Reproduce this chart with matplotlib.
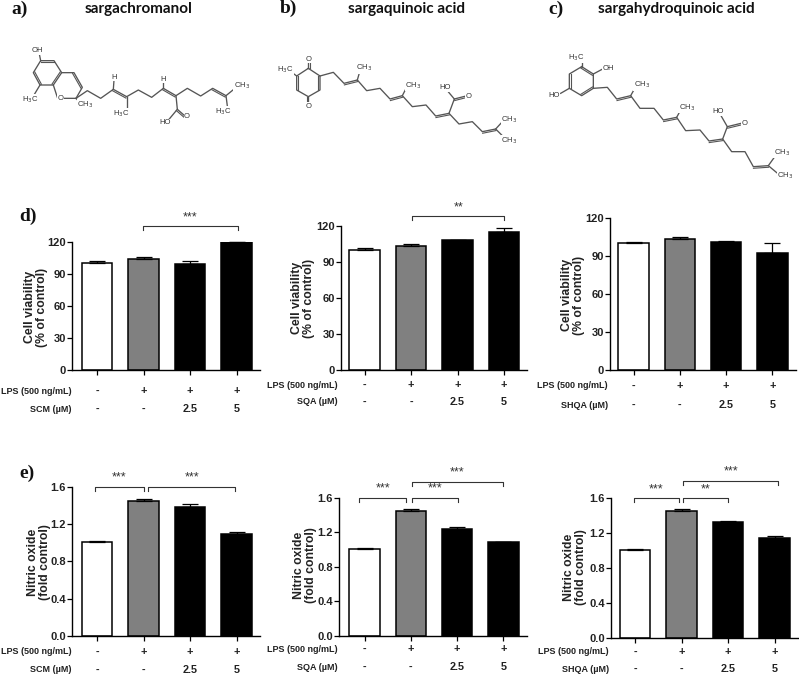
import matplotlib
matplotlib.use('Agg')
from matplotlib import pyplot as plt
from matplotlib.transforms import blended_transform_factory

W, H = 799, 676

# bar values
cv_scm = [100.4, 104, 99.5, 120]
cv_scm_err = [1.5, 2, 2.1, 0]
cv_sqa = [100.3, 103.6, 108.3, 115]
cv_sqa_err = [1.7, 1.9, 0.3, 4]
cv_shqa = [100.3, 103.4, 101.6, 92.9]
cv_shqa_err = [1, 1.9, 0.5, 7.6]
no_scm = [1.004, 1.443, 1.382, 1.089]
no_scm_err = [0.01, 0.021, 0.032, 0.021]
no_sqa = [1.006, 1.446, 1.234, 1.083]
no_sqa_err = [0.012, 0.023, 0.023, 0]
no_shqa = [1.007, 1.452, 1.323, 1.14]
no_shqa_err = [0.012, 0.023, 0.012, 0.023]

bar_colors = ['white', '#808080', 'black', 'black']
lps_row = ['-', '+', '+', '+']
dose_row = ['-', '-', '2.5', '5']
cv_ticks = [0, 30, 60, 90, 120]
no_ticks = [0.0, 0.4, 0.8, 1.2, 1.6]

# significance brackets: first bar, last bar, height, stars
br_d1 = [(0.98, 3.03, 134.6, '***')]
br_d2 = [(1.03, 3.0, 128.6, '**')]
br_d3 = []
br_e1 = [(-0.04, 1.0, 1.6, '***'), (1.10, 2.97, 1.6, '***')]
br_e2 = [(-0.12, 0.90, 1.6, '***'), (1.02, 2.03, 1.6, '***'), (1.02, 2.99, 1.786, '***')]
br_e3 = [(-0.03, 0.95, 1.597, '***'), (1.04, 2.0, 1.597, '**'), (1.04, 3.07, 1.80, '***')]

sans = 'Liberation Sans'
fig = plt.figure(figsize=(W / 100, H / 100), dpi=100)

# overlay in image pixels for the text and the drawn molecules
ov = fig.add_axes([0, 0, 1, 1])
ov.set_xlim(0, W)
ov.set_ylim(H, 0)
ov.axis('off')


def bar_panel(left, right, top, bottom, c0, step, vals, errs, ymax, ticks, ticklabels,
              ylab, ylab_x, ylab_y, dose, row_right, row_y, brackets):
    ax = fig.add_axes([left / W, 1 - bottom / H, (right - left) / W, (bottom - top) / H])
    ax.patch.set_alpha(0)
    x = range(4)
    ax.bar(x, vals, width=0.66, color=bar_colors, edgecolor='black', linewidth=1.1)
    ax.errorbar(x, vals, yerr=[[0] * 4, errs], fmt='none', ecolor='black',
                elinewidth=0.9, capsize=5.6, capthick=0.9, clip_on=False)
    ax.set_xlim((left - c0) / step, (right - c0) / step)
    ax.set_ylim(0, ymax)
    ax.set_xticks(list(x))
    ax.set_xticklabels([])
    ax.set_yticks(ticks)
    ax.set_yticklabels(ticklabels, fontfamily=sans, fontweight='bold', fontsize=8, color='#222222')
    ax.tick_params(length=3.5, width=0.9, pad=1)
    for s in ['top', 'right']:
        ax.spines[s].set_visible(False)
    for s in ['left', 'bottom']:
        ax.spines[s].set_linewidth(1.0)

    ov.text(ylab_x, ylab_y, ylab, rotation=90, ha='center', va='center', multialignment='center',
            fontfamily=sans, fontweight='bold', fontsize=8.8, color='#222222', linespacing=1.1)

    # two rows under the bars
    tr = blended_transform_factory(ax.transData, ov.transData)
    for i in x:
        ax.text(i, row_y[0], lps_row[i], transform=tr, ha='center', va='center', clip_on=False,
                fontfamily=sans, fontweight='bold', fontsize=7.8, color='#222222')
        ax.text(i, row_y[1], dose_row[i], transform=tr, ha='center', va='center', clip_on=False,
                fontfamily=sans, fontweight='bold', fontsize=7.8, color='#222222')
    ov.text(row_right, row_y[0], 'LPS (500 ng/mL)', ha='right', va='center',
            fontfamily=sans, fontweight='bold', fontsize=6.5, color='#222222')
    ov.text(row_right, row_y[1], dose + ' (µM)', ha='right', va='center',
            fontfamily=sans, fontweight='bold', fontsize=6.5, color='#222222')

    # brackets, 4 px drop at each end
    drop = 4.0 * ymax / (bottom - top)
    for x0, x1, y, stars in brackets:
        ax.plot([x0, x0, x1, x1], [y - drop, y, y, y - drop], color='#333333', lw=0.8, clip_on=False)
        ax.annotate(stars, ((x0 + x1) / 2, y), xytext=(0, 2), textcoords='offset points',
                    ha='center', va='bottom', fontfamily=sans, fontsize=9, color='#333333',
                    annotation_clip=False)
    return ax


cv_labels = [str(t) for t in cv_ticks]
no_labels = ['%.1f' % t for t in no_ticks]
cv_text = 'Cell viability\n(% of control)'
no_text = 'Nitric oxide\n(fold control)'

bar_panel(72, 260, 241.6, 370, 97, 46.5, cv_scm, cv_scm_err, 120, cv_ticks, cv_labels,
          cv_text, 36, 307, 'SCM', 72, (391, 409), br_d1)
bar_panel(341, 527, 226.3, 370.3, 364.5, 46.5, cv_sqa, cv_sqa_err, 120, cv_ticks, cv_labels,
          cv_text, 303, 298, 'SQA', 338, (385, 402), br_d2)
bar_panel(610, 796, 218.3, 370, 633.5, 46.3, cv_shqa, cv_shqa_err, 120, cv_ticks, cv_labels,
          cv_text, 573, 295, 'SHQA', 608, (386, 405), br_d3)
bar_panel(72, 260, 486.7, 636, 97, 46.5, no_scm, no_scm_err, 1.6, no_ticks, no_labels,
          no_text, 39, 562, 'SCM', 72, (652, 670), br_e1)
bar_panel(339, 527, 497.7, 636, 364.5, 46.3, no_sqa, no_sqa_err, 1.6, no_ticks, no_labels,
          no_text, 305, 565, 'SQA', 338, (649, 667), br_e2)
bar_panel(611, 798, 498, 638, 635, 46.5, no_shqa, no_shqa_err, 1.6, no_ticks, no_labels,
          no_text, 575, 567, 'SHQA', 609, (652, 669), br_e3)

# panel letters and compound names
letters = ['a)', 'b)', 'c)', 'd)', 'e)']
letter_x = [20, 288, 556, 28, 27]
letter_y = [9, 8, 9, 216, 473]
for t, lx, ly in zip(letters, letter_x, letter_y):
    ov.text(lx, ly, t, ha='center', va='center', fontfamily='Liberation Serif',
            fontweight='bold', fontsize=14, color='#111111')

names = ['sargachromanol', 'sargaquinoic acid', 'sargahydroquinoic acid']
name_x = [139, 407, 676]
for t, nx in zip(names, name_x):
    ov.text(nx, 9, t, ha='center', va='center', fontfamily='Lato', fontweight='bold',
            fontsize=11, color='#111111')

# molecule sketches, coordinates in 3x zoomed pixels of each panel
chroman_bonds = [
    [(122, 182), (162, 182), (185, 218), (160, 255), (120, 255), (100, 218), (122, 182)],
    [(185, 218), (222, 218), (247, 262), (228, 295), (192, 295)], [(172, 292), (160, 255)],
    [(122, 182), (118, 162)], [(120, 255), (102, 285)], [(228, 295), (240, 308)],
    [(228, 295), (262, 272), (302, 295), (340, 268), (380, 290), (415, 270), (455, 292),
     (490, 265), (528, 287), (562, 265), (602, 288), (638, 265), (678, 287), (705, 265)],
    [(678, 287), (682, 318)], [(340, 268), (342, 240)], [(380, 290), (380, 325)],
    [(490, 265), (490, 245)], [(528, 287), (532, 328), (555, 348)], [(532, 328), (507, 358)],
]
chroman_dbl = [((122, 182), (162, 182)), ((185, 218), (160, 255)), ((120, 255), (100, 218)),
               ((222, 218), (247, 262)), ((340, 268), (380, 290)), ((490, 265), (528, 287)),
               ((638, 265), (678, 287)), ((532, 328), (555, 348))]
chroman_txt = [('OH', 112, 152), ('H$_3$C', 92, 300), ('CH$_3$', 255, 315), ('O', 182, 295),
               ('H', 343, 232), ('H$_3$C', 365, 340), ('H', 490, 238), ('HO', 495, 368),
               ('O', 561, 351), ('CH$_3$', 725, 257), ('H$_3$C', 670, 335)]

quinoic_bonds = [
    [(130, 205), (165, 228), (165, 270), (130, 290), (95, 270), (95, 228), (130, 205)],
    [(130, 205), (130, 186)], [(130, 290), (130, 310)], [(95, 228), (75, 213)],
    [(165, 228), (205, 217), (237, 250), (277, 240), (305, 272), (345, 265), (375, 297),
     (412, 287), (442, 320), (483, 315), (512, 348), (552, 340), (582, 372), (622, 365),
     (652, 395), (692, 387), (715, 362)],
    [(277, 240), (285, 212)], [(412, 287), (425, 262)], [(552, 340), (568, 297), (603, 288)],
    [(568, 297), (547, 272)], [(692, 387), (715, 410)],
]
quinoic_dbl = [((130, 205), (130, 186)), ((130, 290), (130, 310)), ((165, 228), (165, 270)),
               ((95, 270), (95, 228)), ((237, 250), (277, 240)), ((375, 297), (412, 287)),
               ((512, 348), (552, 340)), ((568, 297), (603, 288)), ((652, 395), (692, 387))]
quinoic_txt = [('O', 130, 178), ('O', 130, 318), ('H$_3$C', 60, 208), ('CH$_3$', 298, 204),
               ('CH$_3$', 445, 257), ('HO', 540, 263), ('O', 610, 288), ('CH$_3$', 732, 358),
               ('CH$_3$', 732, 422)]

hydro_bonds = [
    [(155, 200), (190, 222), (190, 265), (155, 287), (118, 265), (118, 222), (155, 200)],
    [(155, 200), (155, 180)], [(190, 222), (218, 207)], [(118, 265), (92, 280)],
    [(190, 265), (232, 262), (260, 297), (302, 287), (330, 325), (372, 325), (400, 360),
     (440, 352), (467, 392), (510, 390), (537, 423), (578, 417), (605, 455), (645, 455),
     (670, 500), (715, 497), (738, 465)],
    [(302, 287), (315, 264)], [(440, 352), (452, 330)], [(578, 417), (592, 380), (633, 370)],
    [(592, 380), (573, 347)], [(715, 497), (745, 522)],
]
hydro_dbl = [((155, 200), (190, 222)), ((190, 265), (155, 287)), ((118, 265), (118, 222)),
             ((260, 297), (302, 287)), ((400, 360), (440, 352)), ((537, 423), (578, 417)),
             ((592, 380), (633, 370)), ((670, 500), (715, 497))]
hydro_txt = [('H$_3$C', 138, 172), ('OH', 235, 207), ('HO', 72, 287), ('CH$_3$', 335, 255),
             ('CH$_3$', 470, 322), ('HO', 565, 335), ('O', 643, 370), ('CH$_3$', 755, 458),
             ('CH$_3$', 765, 528)]


def molecule(dx, bonds, doubles, labels):
    for path in bonds:
        ov.plot([dx + p[0] / 3 for p in path], [p[1] / 3 for p in path], color='#555555', lw=0.95)
    for a, b in doubles:
        # second stroke of a double bond, shifted about 1.6 px
        ex, ey = b[0] - a[0], b[1] - a[1]
        n = (ex ** 2 + ey ** 2) ** 0.5
        ox, oy = -ey / n * 1.6, ex / n * 1.6
        ov.plot([dx + a[0] / 3 + ox, dx + b[0] / 3 + ox], [a[1] / 3 + oy, b[1] / 3 + oy],
                color='#555555', lw=0.8)
    for t, tx, ty in labels:
        ov.text(dx + tx / 3, ty / 3, t, ha='center', va='center', fontfamily=sans, fontsize=5.5,
                color='#333333', bbox=dict(fc='white', ec='none', pad=0.3))


molecule(0, chroman_bonds, chroman_dbl, chroman_txt)
molecule(265, quinoic_bonds, quinoic_dbl, quinoic_txt)
molecule(530, hydro_bonds, hydro_dbl, hydro_txt)

ov.set_xlim(0, W)
ov.set_ylim(H, 0)
fig.savefig('out.png', dpi=100)
